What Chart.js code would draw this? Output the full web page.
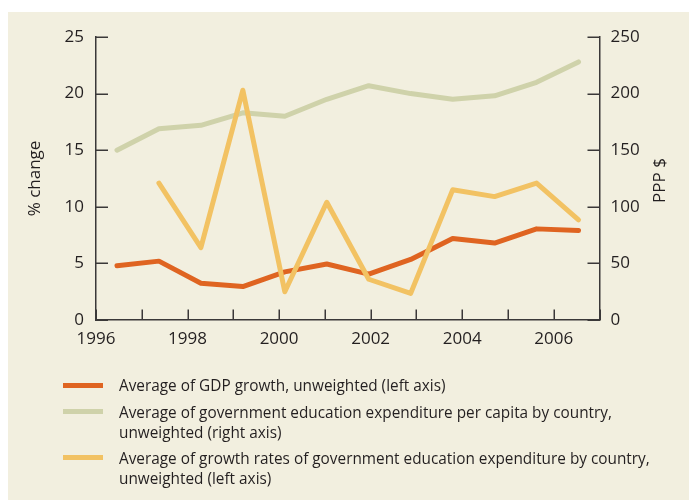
<!DOCTYPE html>
<html>
<head>
<meta charset="utf-8">
<script src="https://cdn.jsdelivr.net/npm/chart.js@4.4.1/dist/chart.umd.min.js"></script>
<style>
  html, body { margin: 0; padding: 0; background: #ffffff; }
  #wrap { position: relative; width: 689px; height: 500px; overflow: hidden; }
  #c { position: absolute; left: 0; top: 0; }
  .swatch { position: absolute; left: 63px; width: 40px; height: 5px; }
  .ltext { position: absolute; left: 119px; font-family: "Open Sans", sans-serif; font-size: 17px;
           line-height: 20px; color: #231f20; white-space: nowrap; transform-origin: 0 0; }
</style>
</head>
<body>
<div id="wrap">
  <canvas id="c" width="689" height="500"></canvas>
  <div id="legend"></div>
</div>
<script>
// ---------- data ----------
const categories = ['1996','1997','1998','1999','2000','2001','2002','2003','2004','2005','2006','2007'];
const gdpGrowth = [4.8, 5.2, 3.25, 2.95, 4.25, 4.95, 4.05, 5.35, 7.2, 6.8, 8.05, 7.9];
const eduExpPerCapita = [150, 169, 172, 183, 180, 195, 207, 200, 195, 198, 210, 228];
const eduExpGrowth = [null, 12.1, 6.4, 20.3, 2.5, 10.4, 3.6, 2.35, 11.5, 10.9, 12.1, 8.85];
const yearAxisMin = 1996;
const yearAxisMax = 2007;
const yearLabelStep = 2;
const leftAxisMax = 25, leftAxisStep = 5;
const rightAxisMax = 250, rightAxisStep = 50;
const leftAxisTitle = '% change';
const rightAxisTitle = 'PPP $';
const seriesNames = [
  'Average of GDP growth, unweighted (left axis)',
  'Average of government education expenditure per capita by country,\nunweighted (right axis)',
  'Average of growth rates of government education expenditure by country,\nunweighted (left axis)'
];

// ---------- style ----------
const BG = '#f2efdf';
const AXIS = '#3a3838';
const TEXT = '#231f20';
const C_GDP = '#df6421';
const C_PC = '#cfd2aa';
const C_GR = '#f2c263';
const FONT = '"Open Sans", sans-serif';

const bgPlugin = {
  id: 'bg',
  beforeDraw(chart) {
    const ctx = chart.ctx;
    ctx.save();
    ctx.fillStyle = BG;
    ctx.fillRect(8, 12, chart.width - 8, chart.height - 12);
    ctx.restore();
  }
};

const innerTicks = {
  id: 'innerTicks',
  afterDraw(chart) {
    const { ctx, chartArea, scales } = chart;
    ctx.save();
    ctx.strokeStyle = AXIS;
    ctx.lineWidth = 1.5;
    ctx.beginPath();
    scales.y.ticks.forEach((t, i) => {
      const py = Math.round(scales.y.getPixelForTick(i)) + 0.25;
      ctx.moveTo(chartArea.left, py); ctx.lineTo(chartArea.left + 12, py);
    });
    scales.y1.ticks.forEach((t, i) => {
      const py = Math.round(scales.y1.getPixelForTick(i)) + 0.25;
      ctx.moveTo(chartArea.right, py); ctx.lineTo(chartArea.right - 12, py);
    });
    scales.xYear.ticks.forEach((t, i) => {
      const px = Math.round(scales.xYear.getPixelForTick(i)) + 0.25;
      ctx.moveTo(px, chartArea.bottom); ctx.lineTo(px, chartArea.bottom - 10.5);
    });
    ctx.stroke();
    // right axis title, reading bottom-to-top
    ctx.fillStyle = TEXT;
    ctx.font = '17px ' + FONT;
    ctx.textAlign = 'center';
    ctx.textBaseline = 'middle';
    ctx.translate(660, (chartArea.top + chartArea.bottom) / 2 + 2);
    ctx.rotate(-Math.PI / 2);
    ctx.fillText(rightAxisTitle, 0, 0);
    ctx.restore();
  }
};

const lineDs = (label, data, color, axis, order) => ({
  label, data, borderColor: color, backgroundColor: color, yAxisID: axis, xAxisID: 'x',
  borderWidth: 5, pointRadius: 0, pointHoverRadius: 0, tension: 0, order,
  borderCapStyle: 'round', borderJoinStyle: 'round', spanGaps: false, fill: false
});

new Chart(document.getElementById('c'), {
  type: 'line',
  data: {
    labels: categories,
    datasets: [
      lineDs(seriesNames[0], gdpGrowth, C_GDP, 'y', 1),
      lineDs(seriesNames[1], eduExpPerCapita, C_PC, 'y1', 2),
      lineDs(seriesNames[2], eduExpGrowth, C_GR, 'y', 0)
    ]
  },
  options: {
    responsive: false,
    animation: false,
    devicePixelRatio: 1,
    layout: { padding: { top: 37, bottom: 140, left: 0, right: 0 } },
    plugins: { legend: { display: false }, tooltip: { enabled: false } },
    scales: {
      x: { type: 'category', display: false, offset: true },
      xYear: {
        type: 'linear', position: 'bottom', min: yearAxisMin, max: yearAxisMax,
        grid: { drawOnChartArea: false, drawTicks: false },
        border: { display: true, color: AXIS, width: 1.5 },
        ticks: {
          stepSize: 1, autoSkip: false, maxRotation: 0, padding: 9, color: TEXT,
          font: { family: FONT, size: 17 },
          callback: v => ((v - yearAxisMin) % yearLabelStep === 0 ? String(v) : '')
        },
        afterFit: s => { s.height = 40; }
      },
      y: {
        type: 'linear', position: 'left', min: 0, max: leftAxisMax,
        grid: { drawOnChartArea: false, drawTicks: false },
        border: { display: true, color: AXIS, width: 1.5 },
        ticks: { stepSize: leftAxisStep, padding: 12, color: TEXT, font: { family: FONT, size: 17 } },
        title: { display: true, text: leftAxisTitle, color: TEXT, font: { family: FONT, size: 17 }, padding: { top: 25 } },
        afterFit: s => { s.width = 96; }
      },
      y1: {
        type: 'linear', position: 'right', min: 0, max: rightAxisMax,
        grid: { drawOnChartArea: false, drawTicks: false },
        border: { display: true, color: AXIS, width: 1.5 },
        ticks: { stepSize: rightAxisStep, padding: 11, color: TEXT, font: { family: FONT, size: 17 } },
        afterFit: s => { s.width = 89.5; }
      }
    }
  },
  plugins: [bgPlugin, innerTicks]
});

// ---------- HTML legend ----------
const legendColors = [C_GDP, C_PC, C_GR];
const legendRowTops = [375, 401.5, 447.5];
const legend = document.getElementById('legend');
const mctx = document.createElement('canvas').getContext('2d');
mctx.font = '17px "Open Sans"';
const kx = 493 / mctx.measureText('Average of government education expenditure per capita by country,').width;
seriesNames.forEach((name, i) => {
  const sw = document.createElement('div');
  sw.className = 'swatch';
  sw.style.background = legendColors[i];
  sw.style.top = (legendRowTops[i] + 10 - 2.5) + 'px';
  legend.appendChild(sw);
  const t = document.createElement('div');
  t.className = 'ltext';
  t.style.top = legendRowTops[i] + 'px';
  t.style.transform = 'scaleX(' + kx + ')';
  name.split('\n').forEach((line, j) => {
    if (j) t.appendChild(document.createElement('br'));
    t.appendChild(document.createTextNode(line));
  });
  legend.appendChild(t);
});
</script>
</body>
</html>
